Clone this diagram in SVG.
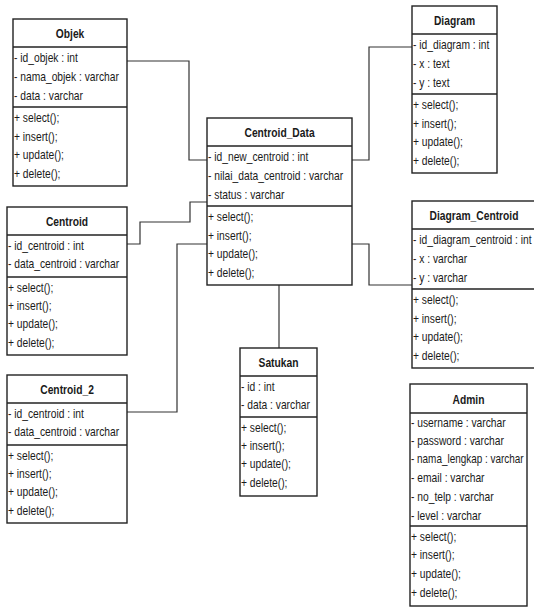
<svg xmlns="http://www.w3.org/2000/svg" width="534" height="609" viewBox="0 0 534 609">
  <style>
    .box { fill: #fff; stroke: #222; stroke-width: 1.4; }
    .sep { stroke: #222; stroke-width: 1.6; }
    .wire { fill: none; stroke: #333; stroke-width: 1.2; }
    text { font-family: "Liberation Sans", Arial, sans-serif; font-size: 13px; fill: #1a1a1a;
           transform-box: fill-box; transform: scaleX(0.79); }
    .ttl { font-weight: bold; text-anchor: middle; transform-origin: 50% 50%; }
    .row { transform-origin: 0 0; }
    .tight { transform: scaleX(0.765); }
  </style>

  <rect width="534" height="609" fill="#fff"/>

  <!-- associations between classes -->
  <g id="connectors">
    <path class="wire" d="M127,61 H189 V160 H207"/>
    <path class="wire" d="M352,160 H369 V47 H412"/>
    <path class="wire" d="M127,244 H140 V222 H190 V202 H207"/>
    <path class="wire" d="M127,412 H177 V244 H207"/>
    <path class="wire" d="M352,244 H369 V285 H412"/>
    <path class="wire" d="M279,285 V348"/>
  </g>

  <!-- Objek -->
  <g id="objek" transform="translate(13,19)">
    <rect class="box" width="114" height="167"/>
    <line class="sep" x1="0" y1="28" x2="114" y2="28"/>
    <line class="sep" x1="0" y1="88" x2="114" y2="88"/>
    <text class="ttl" x="57" y="19">Objek</text>
    <text class="row" x="1" y="43">- id_objek : int</text>
    <text class="row" x="1" y="62">- nama_objek : varchar</text>
    <text class="row" x="1" y="81">- data : varchar</text>
    <text class="row" x="1" y="103">+ select();</text>
    <text class="row" x="1" y="122">+ insert();</text>
    <text class="row" x="1" y="140">+ update();</text>
    <text class="row" x="1" y="159">+ delete();</text>
  </g>

  <!-- Centroid_Data -->
  <g id="centroid-data" transform="translate(207,118)">
    <rect class="box" width="145" height="167"/>
    <line class="sep" x1="0" y1="28" x2="145" y2="28"/>
    <line class="sep" x1="0" y1="88" x2="145" y2="88"/>
    <text class="ttl" x="72.5" y="19">Centroid_Data</text>
    <text class="row" x="1" y="43">- id_new_centroid : int</text>
    <text class="row" x="1" y="62">- nilai_data_centroid : varchar</text>
    <text class="row" x="1" y="81">- status : varchar</text>
    <text class="row" x="1" y="103">+ select();</text>
    <text class="row" x="1" y="122">+ insert();</text>
    <text class="row" x="1" y="140">+ update();</text>
    <text class="row" x="1" y="159">+ delete();</text>
  </g>

  <!-- Diagram -->
  <g id="diagram" transform="translate(412,6)">
    <rect class="box" width="85" height="167"/>
    <line class="sep" x1="0" y1="28" x2="85" y2="28"/>
    <line class="sep" x1="0" y1="88" x2="85" y2="88"/>
    <text class="ttl" x="42.5" y="19">Diagram</text>
    <text class="row" x="1" y="43">- id_diagram : int</text>
    <text class="row" x="1" y="62">- x : text</text>
    <text class="row" x="1" y="81">- y : text</text>
    <text class="row" x="1" y="103">+ select();</text>
    <text class="row" x="1" y="122">+ insert();</text>
    <text class="row" x="1" y="140">+ update();</text>
    <text class="row" x="1" y="159">+ delete();</text>
  </g>

  <!-- Diagram_Centroid (runs past the right edge) -->
  <g id="diagram-centroid" transform="translate(412,201)">
    <rect class="box" width="130" height="167"/>
    <line class="sep" x1="0" y1="28" x2="130" y2="28"/>
    <line class="sep" x1="0" y1="88" x2="130" y2="88"/>
    <text class="ttl" x="62" y="19">Diagram_Centroid</text>
    <text class="row" x="1" y="43">- id_diagram_centroid : int</text>
    <text class="row" x="1" y="62">- x : varchar</text>
    <text class="row" x="1" y="81">- y : varchar</text>
    <text class="row" x="1" y="103">+ select();</text>
    <text class="row" x="1" y="122">+ insert();</text>
    <text class="row" x="1" y="140">+ update();</text>
    <text class="row" x="1" y="159">+ delete();</text>
  </g>

  <!-- Centroid -->
  <g id="centroid" transform="translate(7,207)">
    <rect class="box" width="120" height="148"/>
    <line class="sep" x1="0" y1="28" x2="120" y2="28"/>
    <line class="sep" x1="0" y1="70" x2="120" y2="70"/>
    <text class="ttl" x="60" y="19">Centroid</text>
    <text class="row" x="1" y="43">- id_centroid : int</text>
    <text class="row" x="1" y="61">- data_centroid : varchar</text>
    <text class="row" x="1" y="85">+ select();</text>
    <text class="row" x="1" y="103">+ insert();</text>
    <text class="row" x="1" y="121">+ update();</text>
    <text class="row" x="1" y="140">+ delete();</text>
  </g>

  <!-- Centroid_2 -->
  <g id="centroid-2" transform="translate(7,375)">
    <rect class="box" width="120" height="148"/>
    <line class="sep" x1="0" y1="28" x2="120" y2="28"/>
    <line class="sep" x1="0" y1="70" x2="120" y2="70"/>
    <text class="ttl" x="60" y="19">Centroid_2</text>
    <text class="row" x="1" y="43">- id_centroid : int</text>
    <text class="row" x="1" y="61">- data_centroid : varchar</text>
    <text class="row" x="1" y="85">+ select();</text>
    <text class="row" x="1" y="103">+ insert();</text>
    <text class="row" x="1" y="121">+ update();</text>
    <text class="row" x="1" y="140">+ delete();</text>
  </g>

  <!-- Satukan -->
  <g id="satukan" transform="translate(240,348)">
    <rect class="box" width="77" height="148"/>
    <line class="sep" x1="0" y1="28" x2="77" y2="28"/>
    <line class="sep" x1="0" y1="69" x2="77" y2="69"/>
    <text class="ttl" x="38.5" y="19">Satukan</text>
    <text class="row" x="1" y="43">- id : int</text>
    <text class="row" x="1" y="61">- data : varchar</text>
    <text class="row" x="1" y="84">+ select();</text>
    <text class="row" x="1" y="102">+ insert();</text>
    <text class="row" x="1" y="120">+ update();</text>
    <text class="row" x="1" y="139">+ delete();</text>
  </g>

  <!-- Admin -->
  <g id="admin" transform="translate(410,384)">
    <rect class="box" width="117" height="222"/>
    <line class="sep" x1="0" y1="29" x2="117" y2="29"/>
    <line class="sep" x1="0" y1="142" x2="117" y2="142"/>
    <text class="ttl" x="58.5" y="20">Admin</text>
    <text class="row" x="1" y="43">- username : varchar</text>
    <text class="row" x="1" y="61">- password : varchar</text>
    <text class="row tight" x="1" y="79">- nama_lengkap : varchar</text>
    <text class="row" x="1" y="98">- email : varchar</text>
    <text class="row" x="1" y="117">- no_telp : varchar</text>
    <text class="row" x="1" y="136">- level : varchar</text>
    <text class="row" x="1" y="157">+ select();</text>
    <text class="row" x="1" y="175">+ insert();</text>
    <text class="row" x="1" y="194">+ update();</text>
    <text class="row" x="1" y="213">+ delete();</text>
  </g>
</svg>
